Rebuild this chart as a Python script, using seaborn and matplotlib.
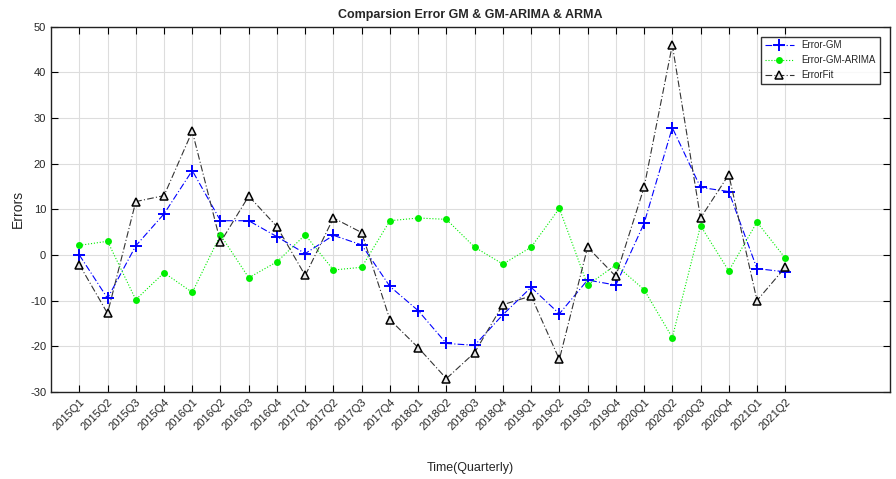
import numpy as np
import pandas as pd
import seaborn as sns
import matplotlib
matplotlib.use("Agg")
import matplotlib.pyplot as plt

quarters = ["2015Q1", "2015Q2", "2015Q3", "2015Q4",
            "2016Q1", "2016Q2", "2016Q3", "2016Q4",
            "2017Q1", "2017Q2", "2017Q3", "2017Q4",
            "2018Q1", "2018Q2", "2018Q3", "2018Q4",
            "2019Q1", "2019Q2", "2019Q3", "2019Q4",
            "2020Q1", "2020Q2", "2020Q3", "2020Q4",
            "2021Q1", "2021Q2"]

error_gm = [0.0, -9.5, 2.0, 9.0, 18.5, 7.5, 7.5, 4.0, 0.3, 4.3, 2.2, -6.9, -12.2,
            -19.4, -19.8, -13.1, -7.1, -12.9, -5.5, -6.6, 6.9, 27.9, 14.8, 13.9, -3.0, -3.7]
error_gm_arima = [2.1, 3.0, -9.8, -3.9, -8.2, 4.4, -5.0, -1.5, 4.4, -3.3, -2.7, 7.5, 8.1,
                  7.8, 1.7, -2.0, 1.7, 10.2, -6.6, -2.2, -7.6, -18.1, 6.4, -3.5, 7.2, -0.7]
error_fit = [-2.1, -12.8, 11.7, 13.0, 27.1, 2.8, 12.9, 6.2, -4.5, 8.1, 4.9, -14.2, -20.3,
             -27.1, -21.4, -10.9, -9.0, -22.9, 1.7, -4.7, 14.8, 46.0, 8.1, 17.6, -10.0, -2.7]

df = pd.DataFrame({
    "t": np.arange(1, len(quarters) + 1),
    "Error-GM": error_gm,
    "Error-GM-ARIMA": error_gm_arima,
    "ErrorFit": error_fit,
})

sns.set_theme(style="whitegrid")
plt.rcParams["font.family"] = ["Liberation Sans", "DejaVu Sans"]
plt.rcParams["axes.unicode_minus"] = False

fig = plt.figure(figsize=(8.96, 4.79), dpi=100)
ax = fig.add_axes([0.057, 0.182, 0.936, 0.762])

sns.lineplot(data=df, x="t", y="Error-GM", ax=ax, color="blue", lw=0.8,
             linestyle=(0, (6, 2, 1, 2)), marker="+", markersize=8,
             markeredgewidth=1.4, markeredgecolor="blue", label="Error-GM")
sns.lineplot(data=df, x="t", y="Error-GM-ARIMA", ax=ax, color="#00ee00", lw=0.8,
             linestyle=":", marker="o", markersize=5, markeredgewidth=0,
             label="Error-GM-ARIMA")
sns.lineplot(data=df, x="t", y="ErrorFit", ax=ax, color="#333333", lw=0.8,
             linestyle=(0, (6, 2, 1, 2)), marker="^", markersize=6,
             markerfacecolor="#e6e6e6", markeredgecolor="black",
             markeredgewidth=1.1, label="ErrorFit")

ax.set_xlim(0, 29.7)
ax.set_ylim(-30, 50)
ax.set_xticks(df["t"])
ax.set_xticklabels(quarters, rotation=45, ha="right", rotation_mode="anchor", fontsize=8)
ax.set_yticks(np.arange(-30, 51, 10))
ax.tick_params(axis="y", labelsize=8)
ax.tick_params(direction="in", length=5, width=0.8, color="black",
               top=True, right=True, bottom=True, left=True)
ax.grid(True, color="#dddddd", lw=0.8)
for s in ax.spines.values():
    s.set_color("#222222")
    s.set_linewidth(1.0)

ax.set_title("Comparsion Error GM & GM-ARIMA & ARMA", fontsize=9, fontweight="semibold", pad=6)
ax.set_xlabel("Time(Quarterly)", fontsize=9, labelpad=22)
ax.set_ylabel("Errors", fontsize=10, labelpad=4)

leg = ax.legend(loc="upper right", fontsize=7, frameon=True, fancybox=False,
                borderaxespad=1.0, handlelength=3)
leg.get_frame().set_edgecolor("black")
leg.get_frame().set_linewidth(1.0)

fig.savefig("out.png", dpi=100)
